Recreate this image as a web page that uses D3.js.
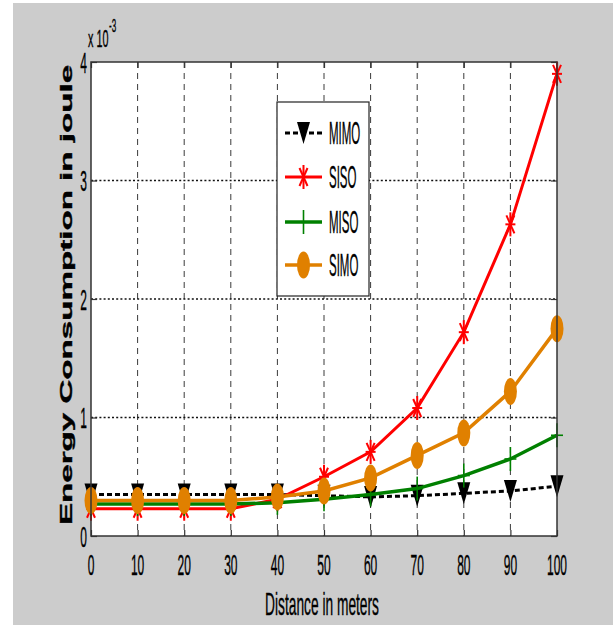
<!DOCTYPE html>
<html>
<head>
<meta charset="utf-8">
<script src="https://cdn.jsdelivr.net/npm/d3@7"></script>
<style>
  html, body { margin: 0; padding: 0; background: #ffffff; }
  svg { display: block; }
  text { font-family: "Liberation Sans", Arial, sans-serif; fill: #000; stroke: #000; stroke-width: 0.35; }
</style>
</head>
<body>
<svg id="chart" width="616" height="625"></svg>
<script>
// Distance in meters
const distances = [0, 10, 20, 30, 40, 50, 60, 70, 80, 90, 100];
// Energy consumption, in units of 1e-3 joule
const mimo = [0.35, 0.35, 0.35, 0.35, 0.35, 0.34, 0.33, 0.34, 0.36, 0.38, 0.42];
const siso = [0.23, 0.23, 0.23, 0.23, 0.31, 0.50, 0.71, 1.08, 1.72, 2.63, 3.90];
const miso = [0.27, 0.27, 0.27, 0.27, 0.28, 0.31, 0.35, 0.40, 0.51, 0.65, 0.85];
const simo = [0.30, 0.30, 0.30, 0.30, 0.33, 0.38, 0.49, 0.68, 0.87, 1.22, 1.75];
const seriesNames = ["MIMO", "SISO", "MISO", "SIMO"];
const xTicks = [0, 10, 20, 30, 40, 50, 60, 70, 80, 90, 100];
const yTicks = [0, 1, 2, 3, 4];

const svg = d3.select("#chart");
const axL = 91, axR = 557, axT = 62, axB = 536;
const x = d3.scaleLinear().domain([0, 100]).range([axL, axR]);
const y = d3.scaleLinear().domain([0, 4]).range([axB, axT]);

// figure background
svg.append("rect").attr("x", 13).attr("y", 3).attr("width", 600).attr("height", 622).attr("fill", "#cccccc");
// axes background
svg.append("rect").attr("x", axL).attr("y", axT).attr("width", axR - axL).attr("height", axB - axT).attr("fill", "#ffffff");

// grid
const grid = svg.append("g");
grid.selectAll("line.vg").data(xTicks.slice(1, -1)).enter().append("line")
  .attr("x1", d => x(d)).attr("x2", d => x(d)).attr("y1", axT).attr("y2", axB)
  .attr("stroke", "#3a3a3a").attr("stroke-width", 1).attr("stroke-dasharray", "6,5");
grid.selectAll("line.hg").data(yTicks.slice(1, -1)).enter().append("line")
  .attr("y1", d => y(d)).attr("y2", d => y(d)).attr("x1", axL).attr("x2", axR)
  .attr("stroke", "#111").attr("stroke-width", 1.6).attr("stroke-dasharray", "2,2.2");

// axes via d3 axis generators with inward ticks; labels drawn separately
const xAxis = svg.append("g").attr("transform", `translate(0,${axB})`)
  .call(d3.axisBottom(x).tickValues(xTicks).tickSizeInner(-6).tickSizeOuter(0).tickFormat(""));
const xAxisTop = svg.append("g").attr("transform", `translate(0,${axT})`)
  .call(d3.axisTop(x).tickValues(xTicks).tickSizeInner(-6).tickSizeOuter(0).tickFormat(""));
const yAxis = svg.append("g").attr("transform", `translate(${axL},0)`)
  .call(d3.axisLeft(y).tickValues(yTicks).tickSizeInner(-6).tickSizeOuter(0).tickFormat(""));
const yAxisRight = svg.append("g").attr("transform", `translate(${axR},0)`)
  .call(d3.axisRight(y).tickValues(yTicks).tickSizeInner(-6).tickSizeOuter(0).tickFormat(""));
[xAxis, xAxisTop, yAxis, yAxisRight].forEach(g => {
  g.select(".domain").remove();
  g.selectAll(".tick line").attr("stroke", "#333").attr("stroke-width", 1.2);
});

// tick labels (narrow, tall lettering)
const lab = svg.append("g");
xTicks.forEach(t => {
  lab.append("text")
    .attr("transform", `translate(${x(t)},575) scale(0.4,1)`)
    .attr("text-anchor", "middle").attr("font-size", 30).text(t);
});
yTicks.forEach(t => {
  lab.append("text")
    .attr("transform", `translate(87,${y(t) + 10.5}) scale(0.4,1)`)
    .attr("text-anchor", "end").attr("font-size", 30).text(t);
});
// exponent label
lab.append("text").attr("transform", "translate(88,47) scale(0.45,1)").attr("font-size", 24).text("x 10");
lab.append("text").attr("transform", "translate(109,32) scale(0.45,1)").attr("font-size", 18).text("-3");

// axis titles
svg.append("text").attr("transform", "translate(322,615) scale(0.43,1)")
  .attr("text-anchor", "middle").attr("font-size", 32).text("Distance in meters");
svg.append("text").attr("transform", "translate(72,295) rotate(-90) scale(1.95,1)")
  .attr("text-anchor", "middle").attr("font-size", 17).attr("font-weight", "bold")
  .text("Energy Consumption in joule");

// marker shapes
function drawMarker(g, kind, cx, cy) {
  const m = g.append("g").attr("transform", `translate(${cx},${cy})`);
  if (kind === "MIMO") {
    m.append("path").attr("d", "M-6.5,-11L6.5,-11L0,11Z").attr("fill", "#000");
  } else if (kind === "SISO") {
    const segs = [[0, -12, 0, 12], [-5, 0, 5, 0], [-4, -9, 4, 9], [-4, 9, 4, -9]];
    segs.forEach(s => m.append("line").attr("x1", s[0]).attr("y1", s[1]).attr("x2", s[2]).attr("y2", s[3])
      .attr("stroke", "#ff0000").attr("stroke-width", 2));
  } else if (kind === "MISO") {
    m.append("line").attr("x1", 0).attr("x2", 0).attr("y1", -12).attr("y2", 12).attr("stroke", "#008000").attr("stroke-width", 1.6);
    m.append("line").attr("x1", -6).attr("x2", 6).attr("y1", 0).attr("y2", 0).attr("stroke", "#008000").attr("stroke-width", 1.6);
  } else {
    m.append("ellipse").attr("rx", 6.5).attr("ry", 13.5).attr("fill", "#e08000");
  }
}

const series = [
  { name: "MIMO", values: mimo, color: "#000000", width: 3, dash: "5,3" },
  { name: "SISO", values: siso, color: "#ff0000", width: 3, dash: null },
  { name: "MISO", values: miso, color: "#008000", width: 3.5, dash: null },
  { name: "SIMO", values: simo, color: "#e08000", width: 3.5, dash: null }
];

const line = d3.line().x(d => x(d[0])).y(d => y(d[1]));
const plot = svg.append("g");
series.forEach(s => {
  const pts = distances.map((d, i) => [d, s.values[i]]);
  plot.append("path").datum(pts).attr("d", line)
    .attr("fill", "none").attr("stroke", s.color).attr("stroke-width", s.width)
    .attr("stroke-dasharray", s.dash);
  pts.forEach(p => drawMarker(plot, s.name, x(p[0]), y(p[1])));
});

// axes box
svg.append("rect").attr("x", axL).attr("y", axT).attr("width", axR - axL).attr("height", axB - axT)
  .attr("fill", "none").attr("stroke", "#333").attr("stroke-width", 1.5);

// legend
const lg = svg.append("g");
lg.append("rect").attr("x", 277).attr("y", 102).attr("width", 92).attr("height", 194)
  .attr("fill", "#ffffff").attr("stroke", "#222").attr("stroke-width", 1.2);
const rowY = [133, 177, 222, 265];
series.forEach((s, i) => {
  lg.append("line").attr("x1", 285).attr("x2", 322).attr("y1", rowY[i]).attr("y2", rowY[i])
    .attr("stroke", s.color).attr("stroke-width", s.width).attr("stroke-dasharray", s.dash);
  drawMarker(lg, s.name, 303.5, rowY[i]);
  lg.append("text").attr("transform", `translate(329,${rowY[i] + 11}) scale(0.37,1)`)
    .attr("font-size", 31).text(seriesNames[i]);
});
</script>
</body>
</html>
